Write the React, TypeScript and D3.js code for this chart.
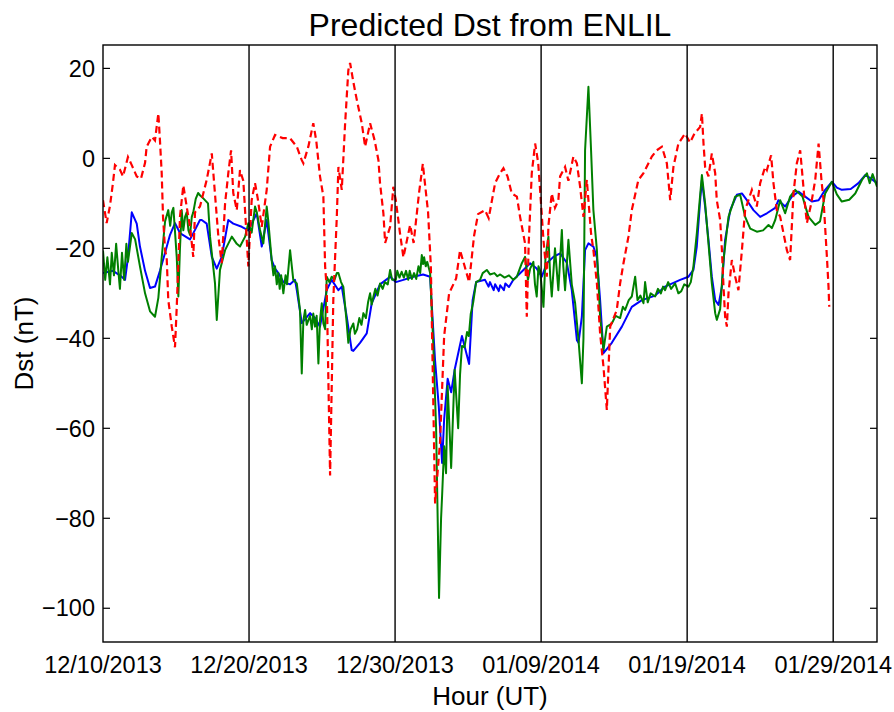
import React from "react";
import * as d3 from "d3";

// Dates (x) as day offsets from 12/10/2013 00:00 UT, values in nT
const startDate = "12/10/2013";
const endDate = "02/01/2014";
const xTickLabels = ["12/10/2013", "12/20/2013", "12/30/2013", "01/09/2014", "01/19/2014", "01/29/2014"];
const yTicks = [-100, -80, -60, -40, -20, 0, 20];

const blueSeries: [number, number][] = [
  [0, -25.5], [0.68, -25], [1.16, -26], [1.51, -27], [1.71, -22], [1.97, -12], [2.31, -14.5], [2.53, -19.6],
  [2.88, -25], [3.22, -28.8], [3.56, -28.5], [3.9, -25], [4.25, -21], [4.59, -17], [4.93, -14.4], [5.27, -16.6],
  [5.96, -18], [6.3, -15.9], [6.64, -13.7], [6.76, -13.7], [7.1, -14.5], [7.45, -21.9], [7.79, -24.5], [8.13, -21.9],
  [8.58, -13.7], [8.92, -14.5], [9.5, -15.2], [9.95, -16], [10.41, -13], [10.53, -12.2], [10.87, -19.6], [11.21, -13.7],
  [11.55, -22.6], [11.78, -24.5], [12.01, -25.5], [12.35, -27.5], [12.81, -28], [13.15, -27], [13.27, -29.3], [13.49, -34],
  [13.61, -36.6], [14.18, -34.4], [14.52, -35.5], [14.86, -37.4], [15.32, -29.3], [15.66, -27], [16.12, -29.3], [16.35, -28.5],
  [16.69, -35.2], [17.03, -42.6], [17.14, -42.8], [17.6, -41], [18.06, -38.9], [18.4, -32.2], [18.97, -28], [19.66, -26.3],
  [20.05, -27.5], [20.57, -27], [21.25, -26.3], [21.92, -25.8], [22.4, -26.3], [22.74, -45], [22.99, -55], [23.22, -67.7],
  [23.36, -58], [23.6, -49], [23.84, -52], [24.08, -47], [24.58, -39.5], [25.07, -45.7], [25.31, -31.5], [25.55, -27.5],
  [26.16, -27], [26.4, -28.5], [26.5, -27.5], [26.75, -29.3], [26.85, -28], [27.1, -29.5], [27.2, -28.2], [27.45, -29.3],
  [27.55, -27.8], [27.8, -28.6], [28.1, -27], [28.79, -24.8], [29.25, -23.3], [29.7, -24.5],
  [30.05, -26.3], [30.39, -23.3], [30.84, -21.9], [31.3, -21.1], [31.76, -23.2], [32.1, -29.3], [32.45, -40.4], [32.56, -41],
  [32.79, -35.2], [33.01, -20.4], [33.24, -18.9], [33.58, -19.6], [33.82, -22], [34.04, -31.5], [34.27, -43.3], [34.84, -41],
  [35.53, -37.4], [36.21, -33], [36.9, -31.5], [37.81, -30.5], [38.49, -28.5], [39.52, -27], [40.09, -26.3], [40.43, -24.8],
  [40.66, -19.6], [40.89, -9.3], [41.01, -4.8], [41.23, -10.7], [41.46, -18.1], [41.69, -26.3], [41.92, -31.5], [42.15, -32.6],
  [42.38, -28.5], [42.6, -18.1], [42.95, -11.5], [43.4, -8.1], [43.75, -7.8], [44.09, -9.3], [44.54, -11.5], [45.0, -13],
  [45.46, -12.2], [46.03, -11], [46.25, -9.3], [46.71, -10.7], [47.17, -8.5], [47.62, -7.4], [48.08, -8.5], [48.54, -9.6],
  [49.0, -9.3], [49.45, -7], [49.91, -5.2], [50.25, -6.5], [50.59, -7], [51.2, -6.8], [51.73, -5.5], [52.19, -3.7],
  [52.6, -4.5], [53.0, -5.5],
];

const greenSeries: [number, number][] = [
  [0, -20.5], [0.15, -27], [0.3, -22], [0.48, -28], [0.6, -21], [0.75, -26], [0.9, -19], [1.05, -25], [1.16, -29],
  [1.3, -21], [1.45, -27], [1.6, -19], [1.71, -23], [1.97, -16.6], [2.2, -18], [2.53, -24], [2.88, -30], [3.22, -34],
  [3.56, -35.2], [3.79, -31], [4.02, -22], [4.25, -14], [4.47, -11.5], [4.6, -15], [4.71, -12], [4.82, -11], [5.05, -22], [5.16, -30.7],
  [5.27, -20], [5.39, -11.5], [5.5, -16], [5.62, -13], [5.73, -12], [5.85, -16], [5.96, -17], [6.08, -13], [6.18, -12], [6.35, -9],
  [6.51, -7.7], [6.64, -8.2], [6.9, -9],
  [7.19, -10], [7.33, -17.4], [7.67, -27.8], [7.79, -35.9], [8.01, -24.8], [8.36, -20.4], [8.82, -17.4], [9.16, -19],
  [9.38, -19.6], [9.73, -17.4], [9.95, -14.4], [10.18, -16.5], [10.41, -10.7], [10.53, -12], [10.75, -15.9], [10.98, -18.9],
  [11.21, -10.7], [11.32, -14], [11.55, -22.6], [11.67, -26], [11.78, -24], [11.9, -28], [12.0, -25.5], [12.1, -29], [12.2, -26],
  [12.35, -30], [12.5, -26], [12.6, -28], [12.81, -20.4], [13.03, -27], [13.27, -27.8], [13.49, -33.7], [13.61, -47.8],
  [13.72, -36], [13.84, -33.7], [13.95, -37], [14.06, -36], [14.18, -35], [14.3, -38], [14.4, -34.5], [14.52, -37.4], [14.63, -35],
  [14.75, -45.6], [14.86, -36], [14.98, -32.2], [15.09, -36.7], [15.21, -38], [15.32, -26.3], [15.5, -27.5], [15.66, -26.3],
  [15.85, -27], [16.01, -25.5], [16.12, -25.5], [16.3, -27.5], [16.46, -28.6], [16.69, -36.7], [16.8, -41],
  [16.95, -38], [17.14, -36.7], [17.25, -39], [17.4, -38], [17.55, -35.5], [17.7, -37], [17.83, -34.4], [18.0, -35.5],
  [18.15, -32], [18.29, -30], [18.4, -32.5], [18.5, -31], [18.65, -29], [18.8, -30.5], [18.97, -27.8], [19.15, -29],
  [19.3, -27.5], [19.5, -28], [19.66, -24.8], [19.8, -27], [20.05, -27], [20.15, -25], [20.3, -26.5], [20.45, -25.2],
  [20.6, -26.5], [20.75, -25], [20.9, -27], [21.0, -25], [21.15, -26.8], [21.3, -25.5], [21.45, -26.8], [21.6, -24],
  [21.72, -25.5], [21.83, -21.5], [21.92, -23.5], [21.99, -22], [22.1, -24], [22.2, -23], [22.4, -25.5], [22.6, -40],
  [22.81, -60], [23.01, -97.7], [23.15, -80], [23.22, -75],
  [23.36, -64], [23.49, -70], [23.6, -50.6], [23.7, -58], [23.84, -68.8], [24.08, -47], [24.32, -60], [24.45, -48],
  [24.58, -41.7], [24.75, -42], [24.93, -38.6], [25.05, -39.5], [25.18, -34.6], [25.35, -32], [25.55, -27.5], [25.82, -27],
  [26.0, -25.5], [26.28, -24.8], [26.5, -25.8], [26.8, -25.5], [27.0, -26.2], [27.2, -25.8], [27.5, -26.5], [27.8, -26],
  [28.1, -27], [28.34, -26.3], [28.68, -23.3], [28.9, -21.9], [29.1, -27], [29.25, -24.5], [29.47, -23], [29.58, -28],
  [29.7, -30.7], [29.82, -24], [29.93, -25], [30.05, -29], [30.16, -33], [30.3, -22], [30.5, -17.4], [30.62, -26],
  [30.73, -30.7], [30.95, -20], [31.05, -24], [31.18, -29.3], [31.42, -15.9], [31.52, -24], [31.64, -29.3], [31.87, -18.1],
  [32.1, -28], [32.33, -32.2], [32.56, -40.4], [32.79, -50], [32.9, -40], [33.01, 1.8], [33.24, 15.9], [33.42, 1.8],
  [33.58, -11.5], [33.82, -20.4], [34.04, -35.2], [34.27, -42.6], [34.5, -37.4], [34.84, -36.7], [35.1, -35], [35.41, -35.5],
  [35.6, -33], [35.75, -33.7], [36.0, -31.5], [36.21, -30.7], [36.44, -26.3], [36.6, -31.5], [36.8, -30.5], [37.01, -32.2],
  [37.12, -27.5], [37.3, -32], [37.5, -30], [37.81, -30.7], [38.0, -29], [38.2, -30], [38.35, -28.5], [38.49, -29.3],
  [38.7, -27.5], [38.9, -29], [39.18, -27.8], [39.4, -30], [39.6, -29.5], [39.8, -28], [40.09, -28.5], [40.25, -27.5],
  [40.43, -24], [40.66, -16.7], [41.01, -3.7], [41.23, -10],
  [41.46, -18.9], [41.69, -27.8], [41.92, -34.4], [42.03, -35.9], [42.26, -33.5], [42.49, -22.6], [42.83, -13], [43.29, -8.5],
  [43.63, -8.1], [43.97, -13], [44.32, -15.6], [44.77, -16.3], [45.2, -16], [45.57, -14.8], [45.8, -15.5], [46.03, -13.7],
  [46.37, -9.3], [46.71, -12.2], [47.05, -8.5], [47.4, -7], [47.9, -8.5], [48.31, -13], [48.77, -14.8], [49.1, -14],
  [49.45, -7.8], [49.91, -5.2], [50.25, -8], [50.59, -9.6], [51.1, -9.2], [51.51, -7.8], [51.97, -4.8], [52.31, -3.3],
  [52.5, -5.5], [52.7, -3.5], [53.0, -6.3],
];

const redSeries: [number, number][] = [
  [0, -9.3], [0.25, -14.4], [0.48, -10.5], [0.68, -5.5], [0.82, -1.5], [1.16, -2.5], [1.37, -4], [1.71, 0.3], [1.97, -1.5],
  [2.31, -4], [2.6, -4.5], [2.88, -1], [2.99, 2.6], [3.34, 4.8], [3.56, 4], [3.79, 10], [3.9, 4], [4.02, -3.3], [4.11, -13],
  [4.25, -20.4], [4.36, -22], [4.47, -31.5], [4.71, -37.4], [4.93, -42], [5.05, -33], [5.16, -23.3], [5.27, -13], [5.5, -6],
  [5.73, -10.7], [5.96, -15.2], [6.18, -21.9], [6.3, -12], [6.64, -10.7], [7.1, -4.8], [7.45, 1.1], [7.67, -8], [7.9, -17.4],
  [8.13, -23.3], [8.36, -10], [8.58, -3.3], [8.77, 1.8], [8.92, -7.7], [9.16, -11.5], [9.38, -2.6], [9.61, -5], [9.95, -24],
  [10.18, -9.3], [10.41, -5.5], [10.6, -9], [10.87, -15.2], [11.21, -7], [11.44, 2.6], [11.78, 5.2], [12.3, 4.5], [12.8, 4.5],
  [13.27, 2.6], [13.61, -0.4], [13.72, -1.1], [14.06, 2.6], [14.4, 7.8], [14.6, 4], [14.86, -4], [15.09, -8.5], [15.21, -24],
  [15.32, -29], [15.55, -70.5], [15.77, -31.5], [16.01, -13], [16.12, -1.9], [16.35, -7], [16.58, 7.8], [16.8, 19.6],
  [16.92, 21.2], [17.14, 17], [17.38, 13], [17.72, 7.8], [17.95, 2.6], [18.29, 7.8], [18.6, 4], [18.86, -0.4], [18.97, -5.5],
  [19.2, -12.2], [19.32, -18.8], [19.66, -15.2], [19.88, -6.3], [20.05, -9.3], [20.34, -16.7], [20.57, -22], [21.03, -14.8],
  [21.27, -18.8], [21.64, -7.7], [21.9, -1.2], [22.26, -12], [22.45, -24], [22.74, -76.7], [23.08, -63], [23.36, -39.5],
  [23.7, -30], [24.18, -26.7], [24.45, -20.4], [25.07, -27.5], [25.41, -17.2], [25.68, -12.4], [26.16, -11.5], [26.41, -13.3],
  [26.85, -5.5], [27.19, -3.3], [27.42, -2.2], [27.7, -4], [27.99, -7.8], [28.34, -8.5], [28.56, -13], [28.9, -18.9],
  [29.02, -35.2], [29.15, -19], [29.36, -3.3], [29.59, 3.3], [29.8, -1], [29.93, -7], [30.16, -18.1], [30.39, -26.3],
  [30.5, -15], [30.73, -7.8], [30.95, -11], [31.18, -9.3], [31.3, -4], [31.64, -1.9], [31.87, -5], [32.21, 0.4], [32.45, -1.1],
  [32.67, -6.3], [32.9, -13], [33.13, -4.8], [33.42, -16.7], [33.58, -20.4], [33.82, -27.8], [34.04, -38.9], [34.27, -46.3],
  [34.5, -55.9], [34.73, -37.4], [35.18, -33.7], [35.41, -27.8], [35.64, -23.3], [35.98, -17.4], [36.21, -11.5], [36.66, -4.8],
  [37.01, -3.3], [37.58, 0.4], [37.92, 1.8], [38.27, 2.6], [38.61, -1.1], [38.84, -9.3], [39.06, -1.9], [39.4, 3.3],
  [39.86, 5.5], [40.2, 3.5], [40.5, 5.5], [40.89, 7], [41.01, 10], [41.12, 3.3], [41.23, -1.9], [41.46, -4], [41.69, 1.1],
  [41.92, -3.3], [42.03, -9.3], [42.26, -13.7], [42.38, -20.4], [42.49, -28.5], [42.6, -35.2], [42.72, -37.4], [42.83, -30],
  [43.06, -22.6], [43.29, -26.3], [43.51, -29.3], [43.75, -20.4], [43.97, -11.5], [44.43, -7], [44.77, -10.7], [45.0, -5.5],
  [45.34, -1.9], [45.46, -2.6], [45.75, 0.7], [45.91, -5.5], [46.14, -11.5], [46.37, -13], [46.6, -16.7], [46.83, -20.4],
  [47.05, -22.6], [47.28, -7.8], [47.51, -1.1], [47.74, 1.8], [48.08, -10.7], [48.2, -14.4], [48.5, -10], [48.77, -4.8],
  [49.0, 3.3], [49.2, -5], [49.34, -9.3], [49.57, -21.9], [49.68, -28.5], [49.73, -33],
];

const W = 894;
const H = 712;
const M = { left: 103, right: 877, top: 45, bottom: 642 };
const FONT = "'Liberation Sans', Arial, Helvetica, sans-serif";

export default function App() {
  const parse = d3.utcParse("%m/%d/%Y");
  const t0 = parse(startDate) as Date;
  const t1 = parse(endDate) as Date;
  const x = d3.scaleUtc().domain([t0, t1]).range([M.left, M.right]);
  const y = d3.scaleLinear().domain([-107.5, 25.2]).range([M.bottom, M.top]);
  const toDate = (d: number) => new Date(t0.getTime() + d * 86400000);

  const line = d3
    .line<[number, number]>()
    .x((p) => x(toDate(p[0])))
    .y((p) => y(p[1]));

  const tickDates = xTickLabels.map((s) => parse(s) as Date);

  return (
    <svg width={W} height={H} style={{ position: "absolute", left: 0, top: 0, background: "#fff" }} fontFamily={FONT}>
      <rect x={0} y={0} width={W} height={H} fill="#fff" />
      <defs>
        <clipPath id="plotclip">
          <rect x={M.left} y={M.top} width={M.right - M.left} height={M.bottom - M.top} />
        </clipPath>
      </defs>
      <g clipPath="url(#plotclip)">
        <path d={line(blueSeries) || ""} fill="none" stroke="#0000ff" strokeWidth={2} strokeLinejoin="round" />
        <path d={line(greenSeries) || ""} fill="none" stroke="#008000" strokeWidth={2} strokeLinejoin="round" />
        <path d={line(redSeries) || ""} fill="none" stroke="#ff0000" strokeWidth={2.2} strokeDasharray="7,4" />
      </g>
      {tickDates.slice(1).map((d, i) => (
        <line key={"v" + i} x1={x(d)} x2={x(d)} y1={M.top} y2={M.bottom} stroke="#000" strokeWidth={1.4} />
      ))}
      <rect x={M.left} y={M.top} width={M.right - M.left} height={M.bottom - M.top} fill="none" stroke="#000" strokeWidth={1.4} />
      {yTicks.map((v) => (
        <g key={"y" + v}>
          <line x1={M.left} x2={M.left + 7} y1={y(v)} y2={y(v)} stroke="#000" strokeWidth={1.2} />
          <line x1={M.right - 7} x2={M.right} y1={y(v)} y2={y(v)} stroke="#000" strokeWidth={1.2} />
          <text x={M.left - 8} y={y(v)} dy="0.35em" textAnchor="end" fontSize={23.5} fill="#000">
            {v < 0 ? "\u2212" + Math.abs(v) : String(v)}
          </text>
        </g>
      ))}
      {tickDates.map((d, i) => (
        <text key={"x" + i} x={x(d)} y={673} textAnchor="middle" fontSize={23.5} fill="#000">
          {xTickLabels[i]}
        </text>
      ))}
      <text x={(M.left + M.right) / 2} y={36} textAnchor="middle" fontSize={32} fill="#000">
        Predicted Dst from ENLIL
      </text>
      <text x={(M.left + M.right) / 2} y={705} textAnchor="middle" fontSize={26} fill="#000">
        Hour (UT)
      </text>
      <text
        transform={`translate(33, ${(M.top + M.bottom) / 2}) rotate(-90)`}
        textAnchor="middle"
        fontSize={26}
        fill="#000"
      >
        Dst (nT)
      </text>
    </svg>
  );
}
